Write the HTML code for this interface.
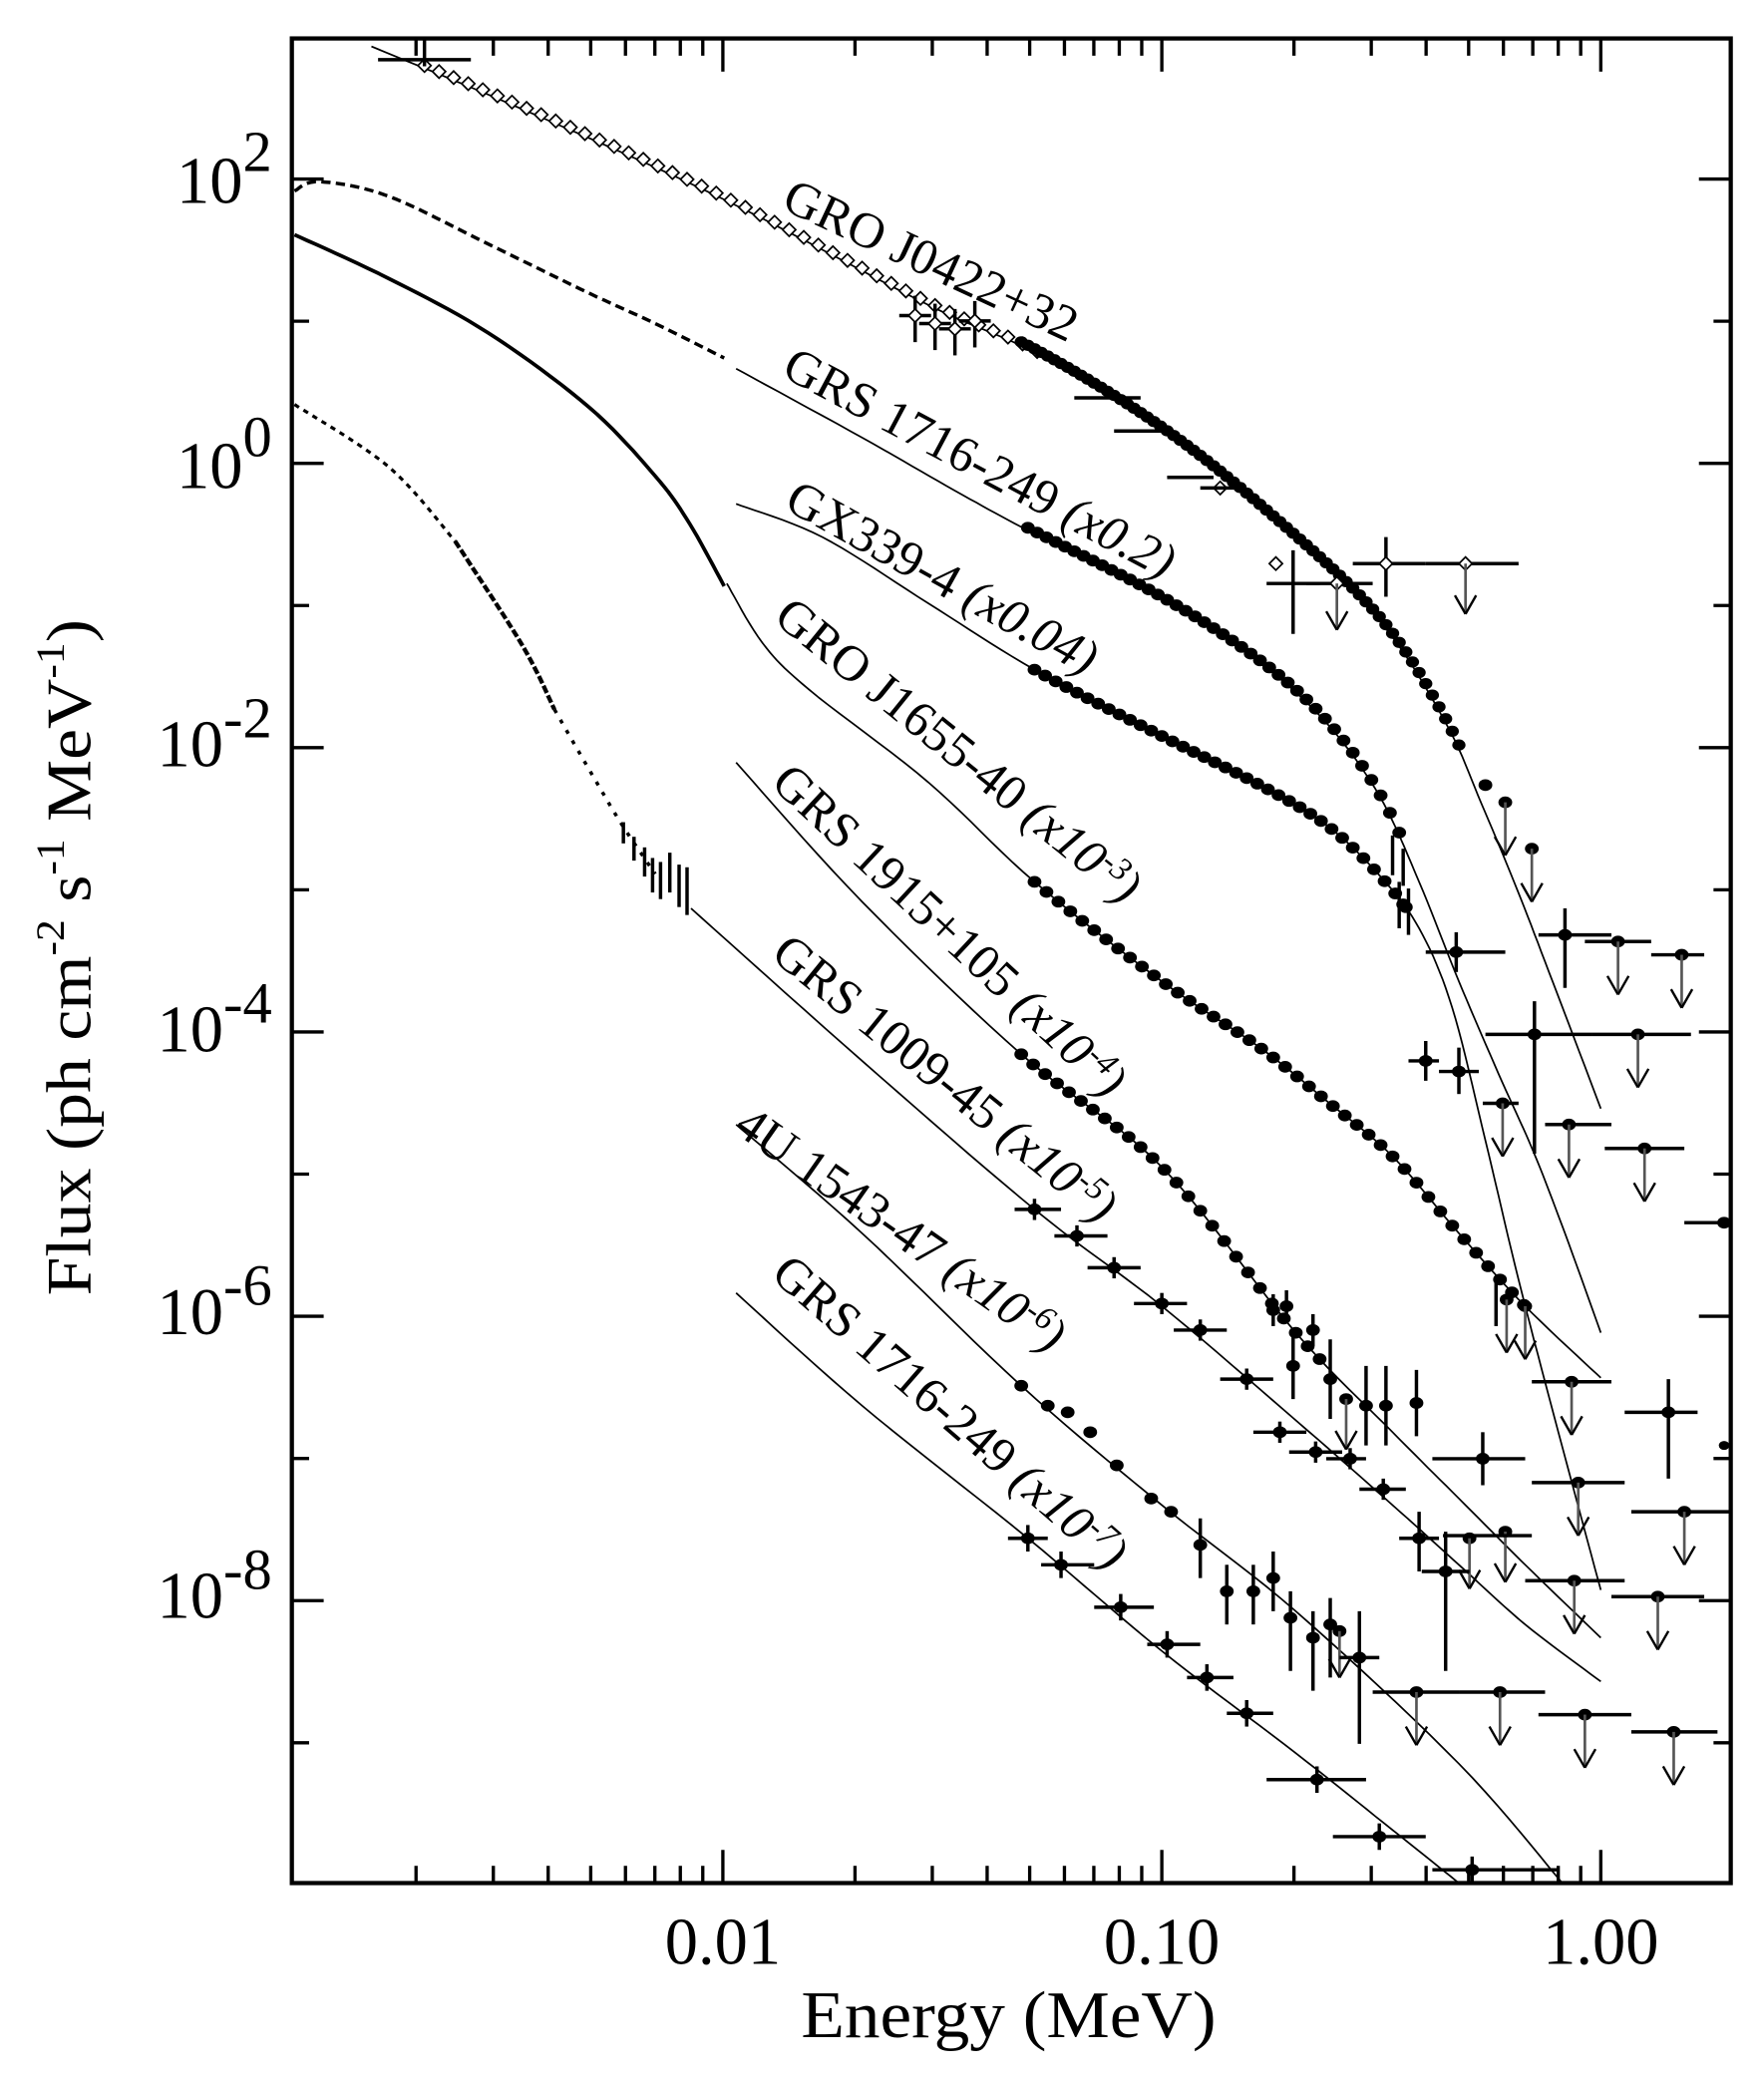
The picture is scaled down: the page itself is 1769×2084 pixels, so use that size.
<!DOCTYPE html>
<html><head><meta charset="utf-8"><style>
html,body{margin:0;padding:0;background:#fff;}
svg{display:block;}
text{font-family:"Liberation Serif",serif;fill:#000;}
</style></head><body>
<svg id="s" xmlns="http://www.w3.org/2000/svg" width="1769" height="2084" viewBox="0 0 1330 1567">
<rect x="0" y="0" width="1330" height="1567" fill="#fff"/>
<g id="ticks" stroke="#000" stroke-width="2.6"></g>
<g id="data"></g>
<rect x="220" y="29" width="1085" height="1391" fill="none" stroke="#000" stroke-width="3.2"/>

<g font-size="50" text-anchor="end">
<text x="205" y="153">10<tspan font-size="44" dy="-24">2</tspan></text>
<text x="205" y="368">10<tspan font-size="44" dy="-24">0</tspan></text>
<text x="205" y="578">10<tspan font-size="44" dy="-22">-2</tspan></text>
<text x="205" y="793">10<tspan font-size="44" dy="-22">-4</tspan></text>
<text x="205" y="1006">10<tspan font-size="44" dy="-22">-6</tspan></text>
<text x="205" y="1220">10<tspan font-size="44" dy="-22">-8</tspan></text>
</g>
<g font-size="50" text-anchor="middle">
<text x="545" y="1481">0.01</text>
<text x="876" y="1481">0.10</text>
<text x="1207" y="1481">1.00</text>
</g>
<text x="604" y="1536" font-size="50" textLength="313" lengthAdjust="spacingAndGlyphs">Energy (MeV)</text>
<text transform="translate(68,977) rotate(-90)" font-size="48" textLength="510" lengthAdjust="spacingAndGlyphs">Flux (ph cm<tspan font-size="30" dy="-20">-2</tspan><tspan dy="20"> s</tspan><tspan font-size="30" dy="-20">-1</tspan><tspan dy="20"> MeV</tspan><tspan font-size="30" dy="-20">-1</tspan><tspan dy="20">)</tspan></text>

<g font-size="38">
<text transform="translate(588,157) rotate(25)">GRO J0422+32</text>
<text transform="translate(588,283) rotate(28)">GRS 1716-249  <tspan font-style="italic">(x0.2)</tspan></text>
<text transform="translate(590,383) rotate(29)">GX339-4  <tspan font-style="italic">(x0.04)</tspan></text>
<text transform="translate(582,468) rotate(39)">GRO J1655-40  <tspan font-style="italic">(x10<tspan font-size="25" dy="-12">-3</tspan><tspan dy="12">)</tspan></tspan></text>
<text transform="translate(580,592) rotate(43)">GRS 1915+105  <tspan font-style="italic">(x10<tspan font-size="25" dy="-12">-4</tspan><tspan dy="12">)</tspan></tspan></text>
<text transform="translate(580,722) rotate(39)">GRS 1009-45  <tspan font-style="italic">(x10<tspan font-size="25" dy="-12">-5</tspan><tspan dy="12">)</tspan></tspan></text>
<text transform="translate(552,853) rotate(35)">4U 1543-47  <tspan font-style="italic">(x10<tspan font-size="25" dy="-12">-6</tspan><tspan dy="12">)</tspan></tspan></text>
<text transform="translate(580,963) rotate(41)">GRS 1716-249  <tspan font-style="italic">(x10<tspan font-size="25" dy="-12">-7</tspan><tspan dy="12">)</tspan></tspan></text>
</g>
</svg>
<script>
(function(){
var NS="http://www.w3.org/2000/svg";
var T=document.getElementById("ticks"), D=document.getElementById("data");
function el(p,tag,a){var e=document.createElementNS(NS,tag);for(var k in a)e.setAttribute(k,a[k]);p.appendChild(e);return e;}
function ln(p,x1,y1,x2,y2,w,c){el(p,"line",{x1:x1,y1:y1,x2:x2,y2:y2,stroke:c||"#000","stroke-width":w||2.5});}
var decs=[0.001,0.01,0.1,1];
decs.forEach(function(d){for(var k=1;k<=9;k++){var x=545+331*Math.log10(k*d/0.01);if(x<=221||x>=1304)continue;var L=(k==1)?25:13;ln(T,x,1420,x,1420-L);ln(T,x,29,x,29+L);}});
for(var L=-10;L<=3;L++){var y=135+(2-L)*107.2;if(y<30||y>1419)continue;var len=(L%2==0)?24:13;ln(T,220,y,220+len,y);ln(T,1305,y,1305-len,y);}

// smooth (Catmull-Rom) sampling
function smooth(pts){var out=[];for(var i=0;i<pts.length-1;i++){var p0=pts[Math.max(0,i-1)],p1=pts[i],p2=pts[i+1],p3=pts[Math.min(pts.length-1,i+2)];for(var s=0;s<10;s++){var t=s/10,t2=t*t,t3=t2*t;var f=function(a,b,c,d){return 0.5*((2*b)+(-a+c)*t+(2*a-5*b+4*c-d)*t2+(-a+3*b-3*c+d)*t3);};out.push([f(p0[0],p1[0],p2[0],p3[0]),f(p0[1],p1[1],p2[1],p3[1])]);}}out.push(pts[pts.length-1]);return out;}
function interp(pts,x){for(var i=0;i<pts.length-1;i++){if(x>=pts[i][0]&&x<=pts[i+1][0]){var t=(x-pts[i][0])/(pts[i+1][0]-pts[i][0]);return pts[i][1]+t*(pts[i+1][1]-pts[i][1]);}}return pts[pts.length-1][1];}
function poly(pts,w,dash){pts=smooth(pts);var a={points:pts.map(function(p){return p[0].toFixed(1)+","+p[1].toFixed(1)}).join(" "),fill:"none",stroke:"#000","stroke-width":w||1.3,"stroke-linejoin":"round"};if(dash)a["stroke-dasharray"]=dash;el(D,"polyline",a);}
function dot(x,y,r){el(D,"ellipse",{cx:x,cy:y,rx:(r||5.2),ry:(r||5.2)*0.85,fill:"#000"});}
function diam(x,y){el(D,"rect",{x:x-3.5,y:y-3.5,width:7,height:7,fill:"#fff",stroke:"#000","stroke-width":1.3,transform:"rotate(45 "+x+" "+y+")"});}
function hb(x1,x2,y){ln(D,x1,y,x2,y,2.6);}
function vb(x,y1,y2){ln(D,x,y1,x,y2,2.6);}
function arrow(x,y,len){len=len||38;ln(D,x,y,x,y+len,2,"#555");ln(D,x-8,y+len-14,x,y+len,1.8);ln(D,x+8,y+len-14,x,y+len,1.8);}

var C={
j0422:[[280,35],[400,85],[545,150],[700,230],[780,266],[876,325],[960,392],[1040,468],[1090,545],[1117,606],[1144,671],[1171,741],[1207,836]],
a1716:[[555,278],[650,330],[720,370],[775,400],[876,452],[950,500],[1000,545],[1040,600],[1070,665],[1100,740],[1130,810],[1156,868],[1180,930],[1207,1005]],
gx:[[555,380],[620,405],[700,455],[780,505],[876,555],[950,592],[1000,622],[1040,660],[1070,700],[1095,760],[1120,860],[1145,965],[1175,1080],[1207,1199]],
j1655:[[548,440],[575,485],[610,520],[700,590],[780,665],[876,740],[950,790],[1000,830],[1050,872],[1100,930],[1150,985],[1207,1039]],
g1915:[[555,575],[650,680],[770,795],[876,880],[977,1005],[1050,1080],[1100,1130],[1150,1180],[1207,1235]],
g1009:[[521,685],[650,800],[780,912],[876,985],[977,1071],[1050,1135],[1100,1180],[1150,1225],[1207,1268]],
u1543:[[555,848],[650,930],[770,1045],[876,1135],[977,1215],[1100,1330],[1178,1420]],
b1716:[[555,975],[650,1060],[775,1160],[876,1245],[977,1322],[1050,1380],[1100,1420]]
};
for(var k in C)poly(C[k],1.3);
var S={};for(var k in C)S[k]=smooth(C[k]);

poly([[222,144],[241,137],[293,148],[368,184],[444,221],[494,244],[546,270]],2.6,"7 4");
poly([[222,177],[293,210],[368,251],[444,307],[494,359],[520,395],[546,442]],2.8);
poly([[222,305],[293,352],[343,408]],2.4,"4 4");
poly([[343,408],[394,487],[418,535]],3.2,"6 2");
poly([[418,535],[444,580],[469,622],[494,659]],2.6,"3 6");
[[470,628,16],[478,640,18],[486,650,22],[492,660,26],[498,664,28],[505,658,30],[512,668,32],[518,672,36]].forEach(function(v){vb(v[0],v[1]-v[2]/2,v[1]+v[2]/2);});

for(var x=320;x<=790;x+=11){diam(x,interp(S.j0422,x)-2);}
hb(285,355,45);vb(320,30,50);
[[690,238],[705,244],[720,248],[735,242]].forEach(function(p){vb(p[0],p[1]-15,p[1]+20);hb(p[0]-12,p[0]+12,p[1]);diam(p[0],p[1]);});
for(var x=770;x<=1100;x+=5){dot(x,interp(S.j0422,x)-3,5);}
[[830,300,810,860],[860,325,840,880],[900,360,880,915]].forEach(function(p){hb(p[2],p[3],p[1]);});
dot(1120,592);dot(1135,605);arrow(1135,605,40);dot(1155,640);arrow(1155,640,40);
hb(1020,1075,425);vb(1045,405,450);diam(1045,425);
hb(1075,1145,425);diam(1105,425);arrow(1105,425,38);
hb(985,1035,440);diam(1008,440);arrow(1008,440,35);
vb(975,415,478);hb(955,995,440);diam(962,425);
diam(920,368);hb(905,935,368);

for(var x=775;x<=1060;x+=7){dot(x,interp(S.a1716,x)-2);}
vb(1050,630,660);vb(1058,640,668);
for(var x=780;x<=1060;x+=8){dot(x,interp(S.gx,x));}
vb(1055,665,700);vb(1062,670,705);dot(1058,682);
hb(1075,1135,718);vb(1098,703,733);dot(1098,718);
for(var x=780;x<=1150;x+=9){dot(x,interp(S.j1655,x));}
dot(1136,980);arrow(1136,980,40);dot(1150,985);arrow(1150,985,40);vb(1128,965,1000);
for(var x=770;x<=1000;x+=9){dot(x,interp(S.g1915,x));}
[[960,988],[970,985],[990,1003],[975,1030,25],[1003,1040,30]].forEach(function(p){dot(p[0],p[1]);vb(p[0],p[1]-(p[2]||12),p[1]+(p[2]||12));});
dot(1015,1055);arrow(1015,1055,38);
[[1030,1060,30],[1045,1060,30],[1068,1058,25]].forEach(function(p){dot(p[0],p[1]);vb(p[0],p[1]-p[2],p[1]+p[2]);});
hb(1080,1150,1100);vb(1118,1080,1120);dot(1118,1100);
dot(1135,1155);arrow(1135,1155,38);dot(1108,1160);arrow(1108,1160,38);hb(1088,1155,1158);
[[780,912,765,800],[812,932,795,835],[840,956,820,860],[876,983,855,895],[905,1003,885,925],[940,1040,920,960],[965,1080,945,985],[992,1095,972,1012],[1018,1100,1000,1030],[1043,1123,1025,1060]].forEach(function(p){hb(p[2],p[3],p[1]);dot(p[0],p[1]);vb(p[0],p[1]-8,p[1]+8);});
vb(1070,1140,1185);dot(1070,1160);hb(1055,1085,1160);
vb(1090,1155,1260);dot(1090,1185);hb(1072,1108,1185);
var u=[[770,1045],[790,1060],[805,1065],[822,1080],[842,1105],[868,1130],[883,1140],[905,1165],[925,1200],[945,1200],[960,1190],[973,1220],[990,1235],[1003,1225]];
u.forEach(function(p,i){dot(p[0],p[1]);if(i>=7)vb(p[0],p[1]-20,p[1]+25+(i>10?15:0));});
dot(1010,1230);arrow(1010,1230,35);vb(1025,1215,1315);dot(1025,1250);hb(1010,1040,1250);
[[775,1160,760,790],[800,1180,785,825],[845,1212,825,870],[880,1240,865,905],[910,1265,895,930],[940,1292,925,960],[993,1342,955,1030],[1040,1385,1005,1075],[1110,1410,1080,1175]].forEach(function(p){hb(p[2],p[3],p[1]);dot(p[0],p[1]);vb(p[0],p[1]-10,p[1]+10);});
var R=[
[1180,705,1160,1215,"c",685,745],[1220,710,1195,1245,"a"],[1268,720,1245,1285,"a"],
[1157,780,1120,1200,"c",755,870],[1235,780,1200,1275,"a"],[1100,808,1085,1115,"c",790,825],[1075,800,1062,1085,"c",785,815],
[1133,832,1118,1145,"a"],[1183,848,1165,1215,"a"],[1240,866,1210,1270,"a"],[1300,922,1270,1305,"n"],
[1185,1042,1155,1215,"a"],[1258,1065,1225,1280,"c",1040,1115],[1190,1118,1155,1225,"a"],[1270,1140,1230,1305,"a"],
[1187,1192,1150,1225,"a"],[1250,1204,1215,1285,"a"],
[1068,1276,1035,1100,"a"],[1131,1276,1100,1165,"a"],[1195,1293,1160,1230,"a"],[1262,1306,1230,1295,"a"]
];
R.forEach(function(p){hb(p[2],p[3],p[1]);dot(p[0],p[1]);if(p[4]=="a")arrow(p[0],p[1],40);if(p[4]=="c")vb(p[0],p[5],p[6]);});
dot(1300,1090,4);
})();
</script>
</body></html>
